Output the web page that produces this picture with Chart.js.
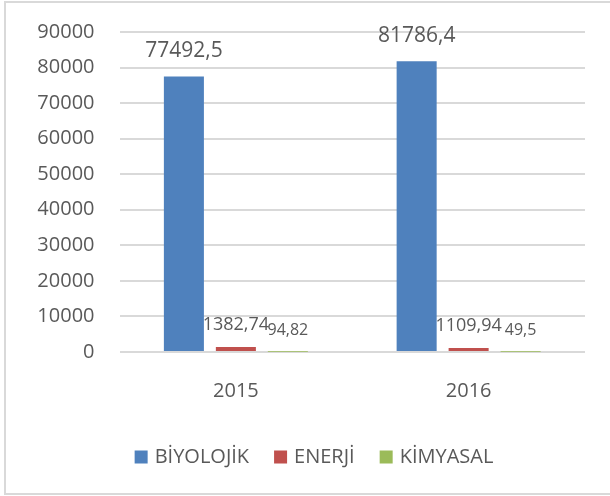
<!DOCTYPE html>
<html>
<head>
<meta charset="utf-8">
<script src="https://cdn.jsdelivr.net/npm/chart.js@4"></script>
<style>
  html, body { margin: 0; padding: 0; background: #fff; overflow: hidden; }
</style>
</head>
<body>
<canvas id="chart" width="610" height="496"></canvas>
<script>
  // Chart data
  const years = ['2015', '2016'];
  const seriesNames = ['BİYOLOJİK', 'ENERJİ', 'KİMYASAL'];
  const biyolojik = [77492.5, 81786.4];
  const enerji = [1382.74, 1109.94];
  const kimyasal = [94.82, 49.5];
  const valueText = [
    ['77492,5', '81786,4'],
    ['1382,74', '1109,94'],
    ['94,82', '49,5']
  ];
  const colors = ['#4f81bd', '#c0504d', '#9bbb59'];

  const TEXT = '#595959';
  const FONT = "'Open Sans', sans-serif";

  // Excel style value labels above each bar
  const labelSizes = [21, 18, 16];
  const labelOffsets = [25, 22, 21];

  const valueLabels = {
    id: 'valueLabels',
    afterDatasetsDraw(chart) {
      const ctx = chart.ctx;
      ctx.save();
      ctx.fillStyle = TEXT;
      ctx.textAlign = 'center';
      ctx.textBaseline = 'middle';
      chart.data.datasets.forEach((ds, di) => {
        const meta = chart.getDatasetMeta(di);
        ctx.font = labelSizes[di] + 'px ' + FONT;
        meta.data.forEach((bar, i) => {
          ctx.fillText(valueText[di][i], bar.x, bar.y - labelOffsets[di]);
        });
      });
      ctx.restore();
    }
  };

  // outer frame (left, top, bottom edges) and Excel style legend
  const frameAndLegend = {
    id: 'frameAndLegend',
    beforeDraw(chart) {
      const ctx = chart.ctx;
      ctx.save();
      ctx.strokeStyle = '#d9d9d9';
      ctx.lineWidth = 2;
      ctx.beginPath();
      ctx.moveTo(612, 2);
      ctx.lineTo(5, 2);
      ctx.lineTo(5, 494);
      ctx.lineTo(612, 494);
      ctx.stroke();
      ctx.restore();
    },
    afterDraw(chart) {
      const ctx = chart.ctx;
      ctx.save();
      ctx.font = '20px ' + FONT;
      ctx.textBaseline = 'middle';
      const box = 13, gap = 7, spacing = 25;
      const widths = seriesNames.map(n => box + gap + ctx.measureText(n).width);
      const total = widths.reduce((a, b) => a + b, 0) + spacing * (widths.length - 1);
      let x = 314 - total / 2;
      const y = 457;
      seriesNames.forEach((n, i) => {
        ctx.fillStyle = colors[i];
        ctx.fillRect(x, y - 6.5, box, box);
        ctx.fillStyle = TEXT;
        ctx.fillText(n, x + box + gap, y);
        x += widths[i] + spacing;
      });
      ctx.restore();
    }
  };

  new Chart(document.getElementById('chart'), {
    type: 'bar',
    data: {
      labels: years,
      datasets: [
        { label: seriesNames[0], data: biyolojik, backgroundColor: colors[0] },
        { label: seriesNames[1], data: enerji, backgroundColor: colors[1] },
        { label: seriesNames[2], data: kimyasal, backgroundColor: colors[2] }
      ]
    },
    options: {
      responsive: false,
      animation: false,
      categoryPercentage: 0.67,
      barPercentage: 0.77,
      layout: { padding: { left: 37.5, right: 25, top: 32, bottom: 80 } },
      plugins: {
        tooltip: { enabled: false },
        legend: { display: false }
      },
      scales: {
        x: {
          grid: { display: false, drawTicks: false },
          border: { display: false },
          ticks: { color: TEXT, font: { family: FONT, size: 20 }, padding: 27 },
          afterFit: s => { s.height = 64; }
        },
        y: {
          min: 0,
          max: 90000,
          grid: { color: '#d9d9d9', lineWidth: 2, drawTicks: false },
          border: { display: false },
          ticks: {
            stepSize: 10000,
            color: TEXT,
            font: { family: FONT, size: 20 },
            padding: 25,
            callback: v => String(v)
          },
          afterFit: s => { s.width = 82; s.paddingTop = 0; }
        }
      }
    },
    plugins: [valueLabels, frameAndLegend]
  });
</script>
</body>
</html>
